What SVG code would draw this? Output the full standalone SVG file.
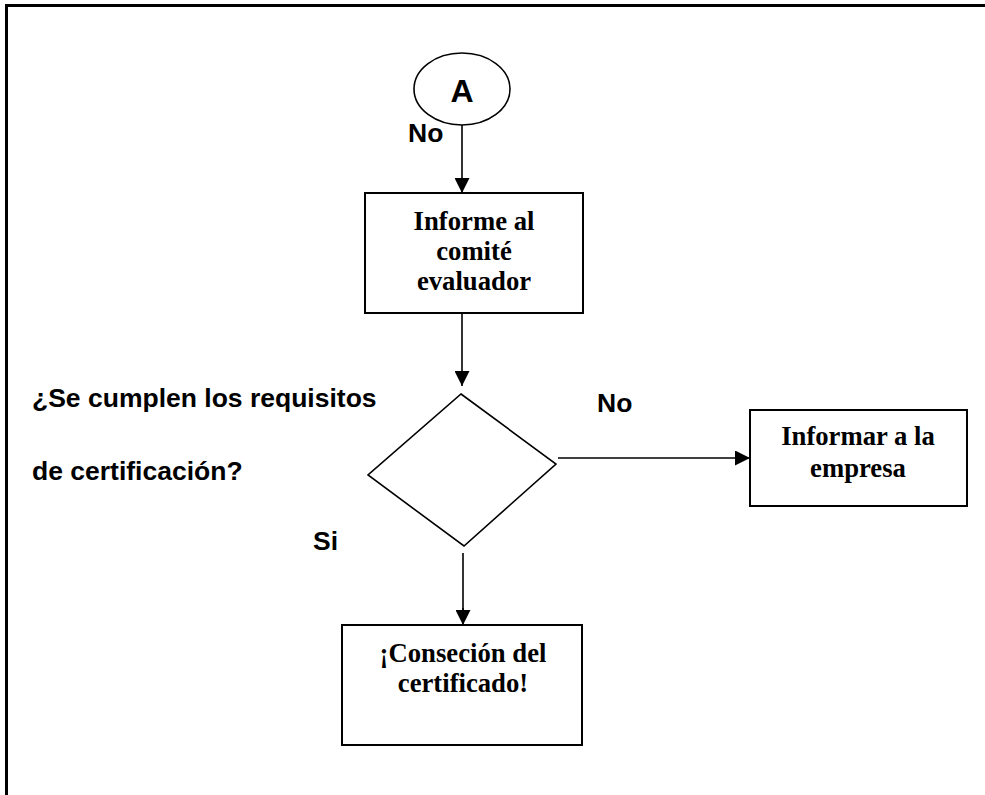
<svg xmlns="http://www.w3.org/2000/svg" width="985" height="795" viewBox="0 0 985 795">
  <style>
    .frame { stroke: #000; stroke-width: 3; fill: none; }
    .box { fill: #fff; stroke: #000; stroke-width: 2; }
    .shape { fill: #fff; stroke: #000; stroke-width: 1.6; }
    .conn { stroke: #000; stroke-width: 1.6; fill: none; marker-end: url(#arrow); }
    .plain { stroke: #000; stroke-width: 1.6; fill: none; }
    .serif { font-family: "Liberation Serif", "Times New Roman", serif; font-weight: bold; font-size: 26.7px; text-anchor: middle; fill: #000; }
    .sans { font-family: "Liberation Sans", Arial, sans-serif; font-weight: bold; font-size: 26.5px; fill: #000; }
    .big { font-size: 32px; text-anchor: middle; }
  </style>
  <defs>
    <marker id="arrow" viewBox="0 0 10 10" refX="10" refY="5" markerUnits="userSpaceOnUse" markerWidth="15" markerHeight="15" orient="auto">
      <path d="M0,0 L10,5 L0,10 Z" fill="#000"/>
    </marker>
  </defs>
  <rect width="985" height="795" fill="#fff"/>

  <!-- page frame -->
  <path class="frame" d="M6.5,795 L6.5,5.5 L985,5.5"/>

  <!-- connectors -->
  <g id="connectors">
    <line class="conn" x1="462" y1="125" x2="462" y2="193"/>
    <line class="conn" x1="462" y1="313" x2="462" y2="386"/>
    <line class="conn" x1="558" y1="458" x2="750" y2="458"/>
    <line class="plain" x1="463" y1="553" x2="463" y2="610"/>
    <line class="conn" x1="463" y1="608" x2="463" y2="625"/>
  </g>

  <g id="start">
    <ellipse class="shape" cx="462" cy="89" rx="48" ry="36"/>
    <text class="sans big" x="462" y="102">A</text>
  </g>
  <text class="sans" x="408" y="142">No</text>

  <g id="informe">
    <rect class="box" x="365" y="193" width="218" height="120"/>
    <text class="serif" x="474" y="230">Informe al</text>
    <text class="serif" x="474" y="260">comité</text>
    <text class="serif" x="474" y="290">evaluador</text>
  </g>

  <g id="decision">
    <polygon class="shape" points="461,394 556,464 464,546 368,475"/>
  </g>
  <text class="sans" x="32" y="407">¿Se cumplen los requisitos</text>
  <text class="sans" x="32" y="480">de certificación?</text>
  <text class="sans" x="597" y="412">No</text>
  <text class="sans" x="313" y="550">Si</text>

  <g id="empresa">
    <rect class="box" x="750" y="410" width="217" height="96"/>
    <text class="serif" x="858" y="445">Informar a la</text>
    <text class="serif" x="858" y="477">empresa</text>
  </g>

  <g id="certificado">
    <rect class="box" x="342" y="625" width="240" height="120"/>
    <text class="serif" x="463" y="662">¡Conseción del</text>
    <text class="serif" x="463" y="692">certificado!</text>
  </g>
</svg>
